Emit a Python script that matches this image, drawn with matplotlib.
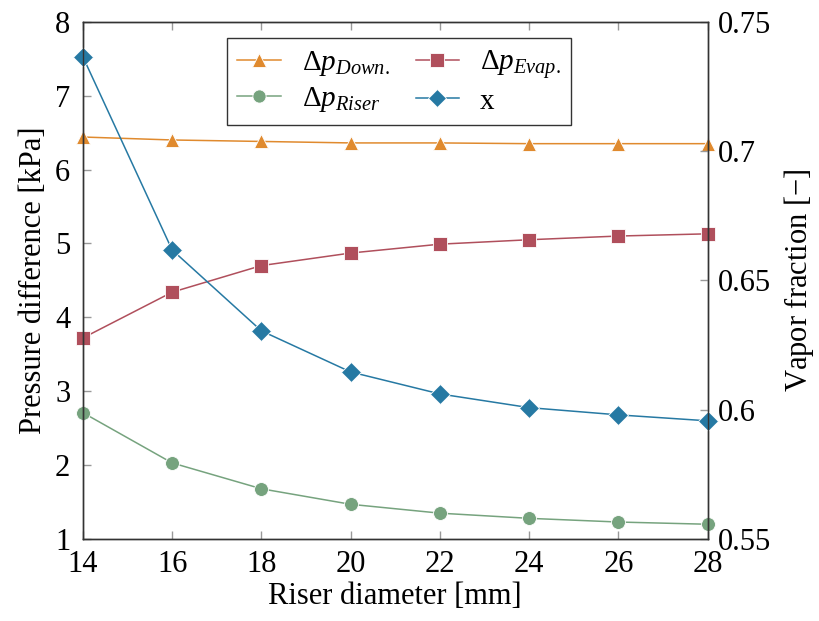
import matplotlib
matplotlib.use("Agg")
import matplotlib.pyplot as plt

# Riser diameter sweep
diameter = [14, 16, 18, 20, 22, 24, 26, 28]
dp_down = [6.44, 6.40, 6.38, 6.36, 6.36, 6.35, 6.35, 6.35]
dp_evap = [3.72, 4.34, 4.70, 4.87, 4.99, 5.05, 5.10, 5.13]
dp_riser = [2.71, 2.03, 1.68, 1.47, 1.35, 1.28, 1.23, 1.20]
vapor_x = [0.7365, 0.6618, 0.6305, 0.6146, 0.6061, 0.6008, 0.5980, 0.5957]

plt.rcParams['font.family'] = 'Liberation Serif'
plt.rcParams['mathtext.fontset'] = 'custom'
plt.rcParams['mathtext.rm'] = 'Liberation Serif'
plt.rcParams['mathtext.it'] = 'Liberation Serif:italic'
plt.rcParams['font.size'] = 22

c_down = '#E08A2E'
c_evap = '#B04F5C'
c_riser = '#76A37E'
c_x = '#2679A3'

fig = plt.figure(figsize=(8.2, 6.21), dpi=100)
ax = fig.add_axes([0.101, 0.132, 0.762, 0.833])
ax2 = ax.twinx()

kw = dict(lw=1.1, markersize=10, markeredgecolor='white', markeredgewidth=0.6)
l1, = ax.plot(diameter, dp_down, '-^', color=c_down, label=r'$\Delta p_{Down.}$', **kw)
l2, = ax.plot(diameter, dp_evap, '-s', color=c_evap, label=r'$\Delta p_{Evap.}$', **kw)
l3, = ax.plot(diameter, dp_riser, '-o', color=c_riser, label=r'$\Delta p_{Riser}$', **kw)
l4, = ax2.plot(diameter, vapor_x, '-D', color=c_x, label='x', **kw)
for l in (l1, l2, l3, l4):
    l.set_clip_on(False)

ax.set_xlim(14, 28)
ax.set_ylim(1, 8)
ax2.set_ylim(0.55, 0.75)
ax.set_xticks(diameter)
ax.set_yticks(range(1, 9))
ax2.set_yticks([0.55, 0.6, 0.65, 0.7, 0.75])
ax2.set_yticklabels(['0.55', '0.6', '0.65', '0.7', '0.75'])

ax.tick_params(axis='both', direction='in', length=6, color='#999999', width=1,
               top=True, pad=8)
ax.tick_params(axis='y', pad=9)
ax2.tick_params(axis='y', direction='in', length=6, color='#999999', width=1, pad=7)
for a in (ax, ax2):
    for s in a.spines.values():
        s.set_color('#333333')
        s.set_linewidth(1)

ax.set_xlabel('Riser diameter [mm]', labelpad=2)
ax.set_ylabel('Pressure difference [kPa]', labelpad=5)
ax2.set_ylabel(r'Vapor fraction [$-$]', labelpad=8)

# column-major fill: Down/Riser in first column, Evap/x in second
leg = ax.legend(handles=[l1, l3, l2, l4], ncol=2, loc='upper center',
                bbox_to_anchor=(0.506, 0.969), borderaxespad=0,
                fancybox=False, framealpha=1,
                edgecolor='#333333', handlelength=1.5, columnspacing=0.9,
                borderpad=0.35, labelspacing=0.25, handletextpad=0.7,
                fontsize=21, markerscale=0.95)
leg.get_frame().set_linewidth(1)
leg.set_zorder(5)

fig.savefig('out.png', dpi=100)
